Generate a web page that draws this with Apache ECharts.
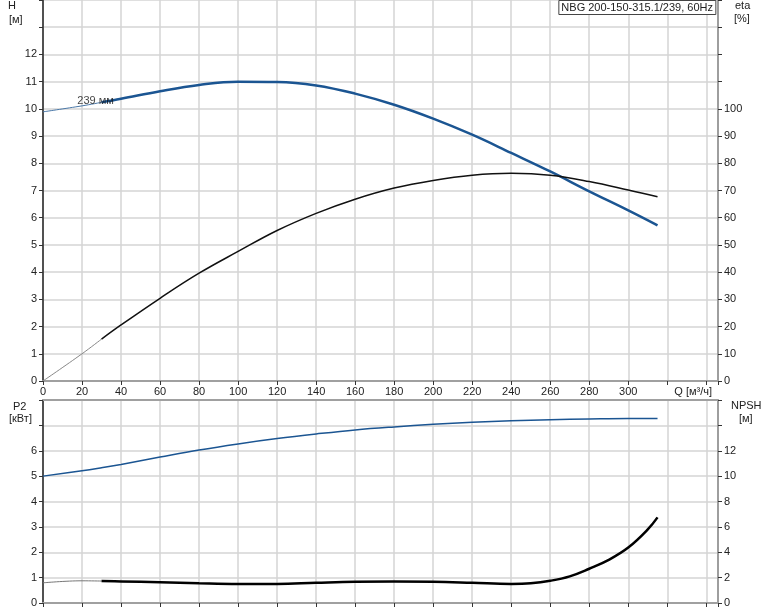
<!DOCTYPE html>
<html>
<head>
<meta charset="utf-8">
<script src="https://cdn.jsdelivr.net/npm/echarts@6/dist/echarts.min.js"></script>
<style>html,body{margin:0;padding:0;background:#fff}#c{width:774px;height:611px}</style>
</head>
<body>
<div id="c"></div>
<script>
// ---- data ----
const titleText = 'NBG 200-150-315.1/239, 60Hz';
const curveLabel = '239 мм';
const Q    = [0, 20, 30, 40, 60, 80, 100, 120, 140, 160, 180, 200, 220, 240, 260, 280, 300, 315];
const H    = [9.89, 10.11, 10.24, 10.37, 10.65, 10.88, 11.0, 10.99, 10.86, 10.56, 10.15, 9.64, 9.05, 8.38, 7.7, 6.97, 6.27, 5.72];
const ETA  = [0, 10.0, 15.4, 20.6, 30.4, 39.6, 47.6, 55.3, 61.6, 66.8, 70.9, 73.7, 75.6, 76.3, 75.6, 73.3, 70.2, 67.7];
const P2   = [5.0, 5.21, 5.33, 5.46, 5.75, 6.03, 6.27, 6.48, 6.66, 6.82, 6.94, 7.04, 7.12, 7.18, 7.22, 7.25, 7.27, 7.27];
const Qn   = [0, 20, 30, 40, 60, 80, 100, 120, 140, 160, 180, 200, 220, 240, 250, 260, 270, 280, 290, 300, 310, 315];
const NPSH = [1.59, 1.75, 1.73, 1.7, 1.63, 1.55, 1.5, 1.5, 1.59, 1.67, 1.7, 1.67, 1.59, 1.5, 1.55, 1.75, 2.1, 2.7, 3.4, 4.37, 5.8, 6.75];
const xTicksMaxLabel = 300;
const hLabelMax = 12, etaLabelMax = 100, p2LabelMax = 6, npshLabelMax = 12;
const thinEnd = 2; // index where the bold (recommended) part starts

function pairs(xs, ys, from, to) {
  const out = [];
  for (let i = from; i <= to; i++) out.push([xs[i], ys[i]]);
  return out;
}

const FONT = 'Liberation Sans, Arial, sans-serif';
const txt = { fontFamily: FONT, fontSize: 11, color: '#222' };
const gridLine = { show: true, lineStyle: { color: '#d5d5d5', width: 1.5 } };

function xAx(grid, showLabels) {
  return {
    type: 'value', gridIndex: grid, min: 0, max: 346, interval: 20,
    axisLine: { show: true, onZero: false, lineStyle: { color: '#a0a0a0', width: 2 } },
    axisTick: { show: true, length: 4, lineStyle: { color: '#333' } },
    axisLabel: { show: showLabels, margin: 5, ...txt, formatter: v => (v <= xTicksMaxLabel ? String(v) : '') },
    splitLine: gridLine
  };
}
function yAx(grid, pos, max, interval, labelMax, lineColor, split) {
  return {
    type: 'value', gridIndex: grid, position: pos, min: 0, max: max, interval: interval,
    axisLine: { show: true, onZero: false, lineStyle: { color: lineColor, width: 1.5 } },
    axisTick: { show: true, length: 4, lineStyle: { color: '#333' } },
    axisLabel: { margin: 6, ...txt, formatter: v => (v <= labelMax ? String(v) : '') },
    splitLine: split ? gridLine : { show: false }
  };
}
function line(xi, yi, data, color, width) {
  return { type: 'line', xAxisIndex: xi, yAxisIndex: yi, data: data, smooth: 0.4,
    symbol: 'none', silent: true, lineStyle: { color: color, width: width } };
}

const chart = echarts.init(document.getElementById('c'), null, { renderer: 'canvas' });
chart.setOption({
  animation: false,
  backgroundColor: '#fff',
  title: {
    text: titleText, right: 58, top: 0, padding: [2, 3, 2, 3],
    backgroundColor: '#fff', borderColor: '#444', borderWidth: 1,
    textStyle: { fontFamily: FONT, fontSize: 11, fontWeight: 'normal', color: '#222' }
  },
  grid: [
    { left: 43, right: 56, top: 0, height: 381 },
    { left: 43, right: 56, top: 400, height: 203 }
  ],
  xAxis: [
    xAx(0, true),
    xAx(1, false),
    { type: 'value', gridIndex: 1, position: 'top', min: 0, max: 346,
      axisLine: { show: true, onZero: false, lineStyle: { color: '#a0a0a0', width: 2 } },
      axisTick: { show: false }, axisLabel: { show: false }, splitLine: { show: false } }
  ],
  yAxis: [
    yAx(0, 'left', 14, 1, hLabelMax, '#222', true),
    yAx(0, 'right', 140, 10, etaLabelMax, '#888', false),
    yAx(1, 'left', 8, 1, p2LabelMax, '#222', true),
    yAx(1, 'right', 16, 2, npshLabelMax, '#888', false)
  ],
  graphic: [
    { type: 'text', left: 8, top: 0, style: { text: 'H', font: '11px ' + FONT, fill: '#222' } },
    { type: 'text', left: 9, top: 14, style: { text: '[м]', font: '11px ' + FONT, fill: '#222' } },
    { type: 'text', left: 735, top: 0, style: { text: 'eta', font: '11px ' + FONT, fill: '#222' } },
    { type: 'text', left: 734, top: 13, style: { text: '[%]', font: '11px ' + FONT, fill: '#222' } },
    { type: 'text', right: 62, top: 386, style: { text: 'Q [м³/ч]', font: '11px ' + FONT, fill: '#222' } },
    { type: 'text', left: 13, top: 401, style: { text: 'P2', font: '11px ' + FONT, fill: '#222' } },
    { type: 'text', left: 9, top: 413, style: { text: '[кВт]', font: '11px ' + FONT, fill: '#222' } },
    { type: 'text', left: 731, top: 400, style: { text: 'NPSH', font: '11px ' + FONT, fill: '#222' } },
    { type: 'text', left: 739, top: 413, style: { text: '[м]', font: '11px ' + FONT, fill: '#222' } }
  ],
  series: [
    line(0, 0, pairs(Q, H, 0, thinEnd), '#4a78a8', 1),
    line(0, 0, pairs(Q, H, thinEnd, Q.length - 1), '#1b5592', 2.5),
    line(0, 1, pairs(Q, ETA, 0, thinEnd), '#888', 1),
    line(0, 1, pairs(Q, ETA, thinEnd, Q.length - 1), '#111', 1.5),
    line(1, 2, pairs(Q, P2, 0, Q.length - 1), '#1b5592', 1.5),
    line(1, 3, pairs(Qn, NPSH, 0, thinEnd), '#777', 1),
    line(1, 3, pairs(Qn, NPSH, thinEnd, Qn.length - 1), '#000', 2.5),
    { type: 'scatter', xAxisIndex: 0, yAxisIndex: 0, data: [[Q[thinEnd], H[thinEnd]]], symbolSize: 2, silent: true,
      z: 10, itemStyle: { color: 'rgba(0,0,0,0)' },
      label: { show: true, position: 'inside', offset: [-6, -1], formatter: curveLabel,
        fontFamily: FONT, fontSize: 11, color: '#111' } }
  ]
});
</script>
</body>
</html>
